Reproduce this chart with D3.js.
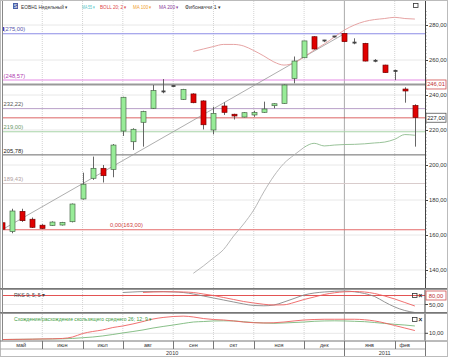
<!DOCTYPE html>
<html><head><meta charset="utf-8">
<script src="https://cdn.jsdelivr.net/npm/d3@7"></script>
<style>body{margin:0;background:#fff}svg{display:block;font-family:"Liberation Sans",Arial,sans-serif}</style>
</head><body><svg id="c" width="450" height="360"></svg>
<script>
// ---------- DATA ----------
const weeks = ["2010-05-10","2010-05-17","2010-05-24","2010-05-31","2010-06-07","2010-06-14","2010-06-21","2010-06-28",
"2010-07-05","2010-07-12","2010-07-19","2010-07-26","2010-08-02","2010-08-09","2010-08-16","2010-08-23","2010-08-30",
"2010-09-06","2010-09-13","2010-09-20","2010-09-27","2010-10-04","2010-10-11","2010-10-18","2010-10-25",
"2010-11-01","2010-11-08","2010-11-15","2010-11-22","2010-11-29","2010-12-06","2010-12-13","2010-12-20","2010-12-27",
"2011-01-03","2011-01-10","2011-01-17","2011-01-24","2011-01-31","2011-02-07","2011-02-14","2011-02-21"];
const open  = [167,162,173.5,169,165.6,165.5,165.7,167.6,180.6,192.4,198.1,197.5,219.4,213.3,224.4,232.4,241.6,245.2,237.5,240.6,236.6,220,233.7,229,227.4,228.6,230.1,233.9,235.2,249.5,261.3,273.3,270.7,273,275.2,270,269.5,259.6,257.1,253.8,243.4,234];
const high  = [168,175,175,170,166.2,167.8,167.5,178,195.6,204.8,200,212,239,221,231,245.7,249.1,245.5,243.5,241,237,233.3,235.8,229.3,230.2,231,236.2,235.3,246,262,271,273.6,271.5,273.8,275.4,272.4,269.8,260.5,257.3,254.5,244.4,234.7];
const low   = [162.8,161,167.5,164,163.5,165.2,165.4,167.2,180.2,191.5,190,193,216.6,208.6,210.5,232,241,244.8,237.2,235.3,220.3,217.5,228.6,226,227.2,227.5,229.8,232.4,235,246.7,261,266,270.2,272.8,270.2,269,259.2,258.7,252.6,248.5,235.6,210.5];
const close = [163.3,173.7,168.2,164.4,163.8,167.4,167.2,177.7,189,198.1,193.9,211.4,238.7,220.4,230.5,242.5,242.1,245.1,243.2,235.6,223,229.5,230.1,228,229.9,230,232,235,245.7,259.4,270.9,266.3,271.2,273.5,270.5,269.9,259.4,259.4,252.8,253.6,242.3,227.2];
const N = null;
const bollUpper = [N,N,N,N,N,N,N,N,N,N,N,N,N,N,N,N,N,N,N,264.9,266.3,267.7,268.9,268.9,268,265.4,262.3,258.9,257.1,258.3,261.7,265.7,269.1,273.1,277.1,280,282,283.1,283.7,284.4,283.7,283.4];
const maLine    = [N,N,N,N,N,N,N,N,N,N,N,N,N,N,N,N,N,N,N,138.1,142.3,146.9,151.7,159.4,166.3,174.3,184.6,193.7,200.9,205.7,210.1,212.4,210.9,211.4,211.7,211.8,212.1,212.6,213.1,214.7,217.4,217];
const fibLevels = [275,248.57,232.22,219,205.78,189.43,163];
const fibLabels = ["(275,00)","(248,57)","232,22)","219,00)","205,78)","189,43)","0,00(163,00)"];
const priceTicks = [140,160,180,200,220,240,260,280];
const lastPrice = 227.00, markPrice = 246.01;
const rsiMain   = [N,N,N,N,N,N,N,N,N,N,N,N,90,91.7,93,93,93,92,90,85,78.3,71.7,65,58.3,51.7,46.7,45.7,48.3,58.3,70,81.7,88.3,91.7,94,95,92.3,86.7,76.7,58.3,41.7,30,23.3];
const rsiSignal = [N,N,N,N,N,N,N,N,N,N,N,N,N,N,90,91.7,92.3,92.3,91.7,90,85,80,73.3,66.7,60,55,50.7,48.3,49,56.7,66.7,75,83.3,89,92.3,93.3,91.7,86.7,78.3,68.3,56.7,45];
const macdLine   = [4.8,4.9,5,5.1,5.3,5.4,5.7,6.9,9.8,11.5,12.8,14.8,16.1,17.8,19.8,21.9,23.2,24,24.3,23.6,22.3,21.5,21.1,20.3,19.4,18.8,18.6,18.8,19.4,20.3,21.1,21.5,21.7,21.7,21.7,21.7,21.3,20.3,18.6,16.5,14.4,12.3];
const macdSignal = [4.8,4.9,5,5.1,5.2,5.3,5.4,5.7,6.3,6.9,7.8,9,10.3,11.5,12.8,14.4,15.7,16.9,18.2,19.4,19.8,20.3,20.4,20.3,19.6,19,18.6,18.3,18.6,19,19.4,20,20.3,20.4,20.3,20,19.7,19,18.2,17.5,16.9,16.1];
const monthLabels = ["май","июн","июл","авг","сен","окт","ноя","дек","янв","фев"];
const yearLabels = ["2010","2011"];

// ---------- LAYOUT ----------
const svg = d3.select("#c");
const L = 2.5, R = 425, RB = 447;
const mainT = 1, mainB = 288, rsiT = 290, rsiB = 312, macdT = 314, macdB = 340.5, axT = 341, axB = 356;
const fmt = d => d3.format(".2f")(d).replace(".", ",");

const x = d3.scalePoint().domain(weeks).range([2, 2 + 41 * 10.07]);
const y = d3.scaleLinear().domain([140, 280]).range([270, 25]);
const yR = d3.scaleLinear().domain([50, 80]).range([304.5, 295.5]);
const yM = d3.scaleLinear().domain([10, 25]).range([333.3, 315.3]);

const defs = svg.append("defs");
[["cm", mainT, mainB], ["cr", rsiT, rsiB], ["cd", macdT, macdB]].forEach(([id, t, b]) => {
  defs.append("clipPath").attr("id", id).append("rect").attr("x", L).attr("y", t).attr("width", R - L).attr("height", b - t);
});

svg.append("rect").attr("x", 0.5).attr("y", 0.5).attr("width", RB).attr("height", axB).attr("fill", "#fff").attr("stroke", "#bbb");

// month boundaries
const idx = weeks.map((w, i) => i);
const bounds = idx.filter(i => i > 0 && weeks[i].slice(5, 7) !== weeks[i - 1].slice(5, 7));
const yearBound = bounds.find(i => weeks[i].slice(0, 4) !== weeks[i - 1].slice(0, 4));

// panel grids
function vgrid(t, b) {
  bounds.forEach(i => {
    svg.append("line").attr("x1", x(weeks[i])).attr("x2", x(weeks[i])).attr("y1", t).attr("y2", b)
      .attr("stroke", i === yearBound ? "#aaa" : "#d4d4d4").attr("stroke-dasharray", i === yearBound ? null : "1,1");
  });
}
vgrid(mainT, mainB); vgrid(rsiT, rsiB); vgrid(macdT, macdB);
priceTicks.forEach(v => {
  svg.append("line").attr("x1", L).attr("x2", R).attr("y1", y(v)).attr("y2", y(v)).attr("stroke", "#d0d0d0").attr("stroke-dasharray", "1,1");
});
svg.append("line").attr("x1", L).attr("x2", R).attr("y1", yR(50)).attr("y2", yR(50)).attr("stroke", "#d0d0d0").attr("stroke-dasharray", "1,1");
svg.append("line").attr("x1", L).attr("x2", R).attr("y1", yM(10)).attr("y2", yM(10)).attr("stroke", "#d0d0d0").attr("stroke-dasharray", "1,1");

// ---------- MAIN PANEL ----------
const gm = svg.append("g").attr("clip-path", "url(#cm)");
const fibColors = ["#8c8ce6", "#e58ae5", "#b9a0c8", "#a8d4a8", "#6a6a6a", "#d9cccc", "#e46a6a"];
fibLevels.forEach((v, k) => {
  gm.append("line").attr("x1", L).attr("x2", R).attr("y1", y(v)).attr("y2", y(v)).attr("stroke", fibColors[k]);
});
const labColors = ["#5555aa", "#b040b0", "#555", "#6a9a6a", "#222", "#b0a0a0", "#d04040"];
fibLabels.forEach((t, k) => {
  gm.append("text").attr("x", k === 6 ? 110 : 3.5).attr("y", y(fibLevels[k]) - 2.3).attr("font-size", 5.8)
    .attr("fill", labColors[k]).text(t);
});
gm.append("rect").attr("x", 2.5).attr("y", 27).attr("width", 1.5).attr("height", 4).attr("fill", "#4040c0");
// mark lines
gm.append("line").attr("x1", L).attr("x2", R).attr("y1", y(markPrice)).attr("y2", y(markPrice)).attr("stroke", "#999").attr("stroke-width", 2);
gm.append("line").attr("x1", L).attr("x2", R).attr("y1", y(lastPrice)).attr("y2", y(lastPrice)).attr("stroke", "#d03030").attr("stroke-width", 1.3).attr("stroke-dasharray", "1,1");
// trend line
gm.append("line").attr("x1", x(weeks[0])).attr("y1", y(163)).attr("x2", x(weeks[34])).attr("y2", y(275)).attr("stroke", "#999").attr("stroke-width", 0.8);
// indicator lines
const lineP = d3.line().defined(d => d != null).x((d, i) => x(weeks[i])).y(d => y(d)).curve(d3.curveMonotoneX);
gm.append("path").attr("d", lineP(bollUpper)).attr("fill", "none").attr("stroke", "#e39a9a").attr("stroke-width", 0.9);
gm.append("path").attr("d", lineP(maLine.map((v, i) => i <= 30 ? v : null))).attr("fill", "none").attr("stroke", "#b0b0b0").attr("stroke-width", 0.9);
gm.append("path").attr("d", lineP(maLine.map((v, i) => i >= 30 ? v : null))).attr("fill", "none").attr("stroke", "#8dbb8d").attr("stroke-width", 0.9);
// candles
const bw = 5;
idx.forEach(i => {
  const cx = Math.round(x(weeks[i])) + 0.5;
  const o = open[i], c = close[i];
  const doji = Math.abs(o - c) < 0.6;
  gm.append("line").attr("x1", cx).attr("x2", cx).attr("y1", y(high[i])).attr("y2", y(low[i])).attr("stroke", "#555").attr("stroke-width", 0.9);
  if (doji) {
    gm.append("rect").attr("x", cx - 2).attr("y", y(Math.max(o, c)) - 0.8).attr("width", 4).attr("height", 1.8).attr("fill", "#444");
  } else {
    const up = c > o;
    gm.append("rect").attr("x", cx - bw / 2).attr("y", y(Math.max(o, c))).attr("width", bw)
      .attr("height", Math.max(1.5, Math.abs(y(o) - y(c))))
      .attr("fill", up ? "#98ec98" : "#e00000").attr("stroke", up ? "#4a6a4a" : "#700").attr("stroke-width", 0.7);
  }
});
// header
svg.append("rect").attr("x", 13).attr("y", 3).attr("width", 5).attr("height", 6).attr("fill", "#4a5fa8");
svg.append("text").attr("x", 15.5).attr("y", 8).attr("font-size", 5).attr("fill", "#fff").attr("text-anchor", "middle").text("S");
const hdr = [["ЕОВН1 Недельный ▾", 21, 47, "#333"], ["MA 55 ▾", 82, 13, "#4cc4c4"], ["BOLL 20; 2 ▾", 100, 27, "#e04848"],
  ["MA 100 ▾", 133, 19, "#f0a030"], ["MA 200 ▾", 159, 20, "#8a3a9a"], ["Фибоначчи 1 ▾", 185, 36, "#333"]];
hdr.forEach(([t, px, w, col]) => svg.append("text").attr("x", px).attr("y", 9).attr("font-size", 5.4).attr("fill", col)
  .attr("textLength", w).attr("lengthAdjust", "spacingAndGlyphs").text(t));
svg.append("rect").attr("x", 413.5).attr("y", 3.5).attr("width", 4.5).attr("height", 4).attr("fill", "none").attr("stroke", "#333").attr("stroke-width", 0.8);

// right axis main
const axG = svg.append("g").attr("transform", `translate(${R},0)`)
  .call(d3.axisRight(y).tickValues(priceTicks).tickSize(3).tickFormat(fmt));
axG.select(".domain").attr("stroke", "#444");
axG.selectAll("text").attr("font-size", 5.8).attr("fill", "#333").attr("x", 4);
axG.selectAll(".tick line").attr("stroke", "#444");
const minor = svg.append("g").attr("transform", `translate(${R},0)`)
  .call(d3.axisRight(y.copy().domain([134, 292]).range([280.5, 4])).tickValues(d3.range(136, 290, 2)).tickSize(1.6).tickFormat(""));
minor.select(".domain").remove();
minor.selectAll("line").attr("stroke", "#555").attr("stroke-width", 0.6);

function priceBox(v, col, txt) {
  svg.append("rect").attr("x", 426).attr("y", y(v) - 4.5).attr("width", 20).attr("height", 9).attr("fill", "#fff").attr("stroke", col).attr("stroke-width", 0.8);
  svg.append("text").attr("x", 436).attr("y", y(v) + 2).attr("text-anchor", "middle").attr("font-size", 5.8).attr("fill", txt).text(fmt(v));
}
priceBox(markPrice, "#d05050", "#c03030");
priceBox(lastPrice, "#555", "#222");

// ---------- RSI PANEL ----------
const gr = svg.append("g").attr("clip-path", "url(#cr)");
gr.append("line").attr("x1", L).attr("x2", R).attr("y1", yR(80)).attr("y2", yR(80)).attr("stroke", "#e04040").attr("stroke-width", 0.9);
const lineR = d3.line().defined(d => d != null).x((d, i) => x(weeks[i])).y(d => yR(d)).curve(d3.curveMonotoneX);
gr.append("path").attr("d", lineR(rsiMain)).attr("fill", "none").attr("stroke", "#888").attr("stroke-width", 0.9);
gr.append("path").attr("d", lineR(rsiSignal)).attr("fill", "none").attr("stroke", "#ee6060").attr("stroke-width", 0.9);
svg.append("text").attr("x", 14).attr("y", 297).attr("font-size", 5.6).attr("fill", "#444")
  .attr("textLength", 31).attr("lengthAdjust", "spacingAndGlyphs").text("RKS 9; 5; 5 ▾");
svg.append("line").attr("x1", R).attr("x2", R).attr("y1", rsiT).attr("y2", rsiB).attr("stroke", "#444");
svg.append("rect").attr("x", 426).attr("y", 291).attr("width", 20).attr("height", 9).attr("fill", "#fff").attr("stroke", "#d05050").attr("stroke-width", 0.8);
svg.append("text").attr("x", 436).attr("y", 297.5).attr("text-anchor", "middle").attr("font-size", 5.8).attr("fill", "#c03030").text(fmt(80));
svg.append("line").attr("x1", R).attr("x2", R + 3).attr("y1", yR(50)).attr("y2", yR(50)).attr("stroke", "#444");
svg.append("text").attr("x", 429).attr("y", yR(50) + 2).attr("font-size", 5.8).attr("fill", "#333").text(fmt(50));

// ---------- MACD PANEL ----------
const gd = svg.append("g").attr("clip-path", "url(#cd)");
const lineM = d3.line().x((d, i) => x(weeks[i])).y(d => yM(d)).curve(d3.curveMonotoneX);
gd.append("path").attr("d", lineM(macdSignal)).attr("fill", "none").attr("stroke", "#7ab87a").attr("stroke-width", 0.9);
gd.append("path").attr("d", lineM(macdLine)).attr("fill", "none").attr("stroke", "#ee6060").attr("stroke-width", 0.9);
svg.append("text").attr("x", 14).attr("y", 321).attr("font-size", 5.4).attr("fill", "#3a9a3a")
  .attr("textLength", 138).attr("lengthAdjust", "spacingAndGlyphs").text("Схождение/расхождение скользящего среднего 26; 12; 9 ▾");
svg.append("line").attr("x1", R).attr("x2", R).attr("y1", macdT).attr("y2", macdB).attr("stroke", "#444");
svg.append("line").attr("x1", R).attr("x2", R + 3).attr("y1", yM(10)).attr("y2", yM(10)).attr("stroke", "#444");
svg.append("text").attr("x", 429).attr("y", yM(10) + 2).attr("font-size", 5.8).attr("fill", "#333").text(fmt(10));

// panel icons
[293, 317].forEach(iy => {
  svg.append("rect").attr("x", 412.5).attr("y", iy + 0.5).attr("width", 4.5).attr("height", 4).attr("fill", "none").attr("stroke", "#333").attr("stroke-width", 0.8);
  svg.append("text").attr("x", 418.5).attr("y", iy + 5).attr("font-size", 6.5).attr("font-weight", "bold").attr("fill", "#222").text("×");
});

// panel separators
[[mainB, rsiT], [rsiB, macdT]].forEach(([a, b]) => {
  svg.append("line").attr("x1", 0).attr("x2", RB).attr("y1", a + 0.5).attr("y2", a + 0.5).attr("stroke", "#777");
  svg.append("line").attr("x1", 0).attr("x2", RB).attr("y1", b - 0.5).attr("y2", b - 0.5).attr("stroke", "#999");
});
svg.append("line").attr("x1", L).attr("x2", L).attr("y1", mainT).attr("y2", macdB).attr("stroke", "#888");
svg.append("line").attr("x1", R + 0.5).attr("x2", R + 0.5).attr("y1", mainT).attr("y2", mainB).attr("stroke", "#444");

// ---------- TIME AXIS ----------
const axMid = 349;
svg.append("line").attr("x1", 0).attr("x2", RB).attr("y1", axT).attr("y2", axT).attr("stroke", "#777");
svg.append("line").attr("x1", 0).attr("x2", R).attr("y1", axMid).attr("y2", axMid).attr("stroke", "#aaa");
svg.append("line").attr("x1", R + 0.5).attr("x2", R + 0.5).attr("y1", axT).attr("y2", axB).attr("stroke", "#777");
const xs = [0, ...bounds.map(i => x(weeks[i])), x(weeks[weeks.length - 1])];
bounds.forEach(i => {
  svg.append("line").attr("x1", Math.round(x(weeks[i])) + 0.5).attr("x2", Math.round(x(weeks[i])) + 0.5).attr("y1", axT).attr("y2", axMid).attr("stroke", "#777");
});
monthLabels.forEach((m, k) => {
  svg.append("text").attr("x", (xs[k] + xs[k + 1]) / 2).attr("y", 347).attr("text-anchor", "middle").attr("font-size", 5.5).attr("fill", "#333").text(m);
});
const yb = x(weeks[yearBound]);
svg.append("line").attr("x1", Math.round(yb) + 0.5).attr("x2", Math.round(yb) + 0.5).attr("y1", axMid).attr("y2", axB).attr("stroke", "#777");
svg.append("text").attr("x", yb / 2).attr("y", 354.5).attr("text-anchor", "middle").attr("font-size", 5.5).attr("fill", "#333").text(yearLabels[0]);
svg.append("text").attr("x", (yb + R) / 2).attr("y", 354.5).attr("text-anchor", "middle").attr("font-size", 5.5).attr("fill", "#333").text(yearLabels[1]);
</script></body></html>
